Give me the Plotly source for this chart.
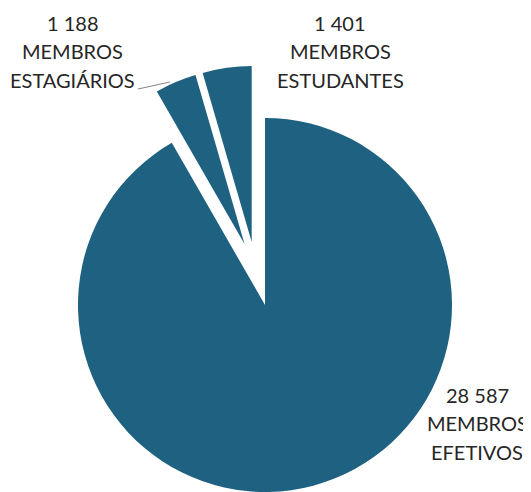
import plotly.graph_objects as go

categories = ["MEMBROS EFETIVOS", "MEMBROS ESTAGIÁRIOS", "MEMBROS ESTUDANTES"]
values = [28587, 1188, 1401]
label_lines = [["MEMBROS", "EFETIVOS"], ["MEMBROS", "ESTAGIÁRIOS"], ["MEMBROS", "ESTUDANTES"]]

COLOR = "#1f6181"
TXT = "#262626"
# page body has an 8px default margin; size the figure to the remaining area
OFF = 8
W, H = 531 - OFF, 492 - OFF

def px(x):
    return (x - OFF) / W

def py(y):
    return 1 - (y - OFF) / H

fig = go.Figure()
# Large slice
fig.add_trace(go.Pie(
    labels=categories, values=values, sort=False, direction="clockwise", rotation=0,
    marker=dict(colors=[COLOR, "rgba(0,0,0,0)", "rgba(0,0,0,0)"], line=dict(width=0)),
    textinfo="none", hoverinfo="label+value", showlegend=False,
    domain=dict(x=[0.0, 0.9828], y=[0.0, 0.7728]),
))
# Small exploded slices
fig.add_trace(go.Pie(
    labels=categories, values=values, sort=False, direction="clockwise", rotation=0,
    pull=[0, 0.162, 0.162],
    marker=dict(colors=["rgba(0,0,0,0)", COLOR, COLOR], line=dict(width=0)),
    textinfo="none", hoverinfo="label+value", showlegend=False,
    domain=dict(x=[0.0826, 0.8646], y=[0.0358, 0.8808]),
))

def fmt(v):
    return f"{v:,}".replace(",", " ")

label_pos = [(477, [395, 423, 452]), (72.5, [23, 51, 80]), (340, [23, 51, 80])]
anns = []
for i, (cx, ys) in enumerate(label_pos):
    lines = [fmt(values[i])] + label_lines[i]
    for txt, y in zip(lines, ys):
        anns.append(dict(text=txt, x=px(cx), y=py(y), xref="paper", yref="paper",
                         xanchor="center", yanchor="middle", showarrow=False,
                         font=dict(family="Lato", size=20, color=TXT)))

fig.update_layout(
    width=W, height=H, margin=dict(l=0, r=0, t=0, b=0),
    paper_bgcolor="white", plot_bgcolor="white",
    annotations=anns,
    shapes=[dict(type="line", xref="paper", yref="paper",
                 x0=px(138), y0=py(89), x1=px(170), y1=py(82),
                 line=dict(color="#8a8a8a", width=1.2))],
)
fig.write_html("out.html")
